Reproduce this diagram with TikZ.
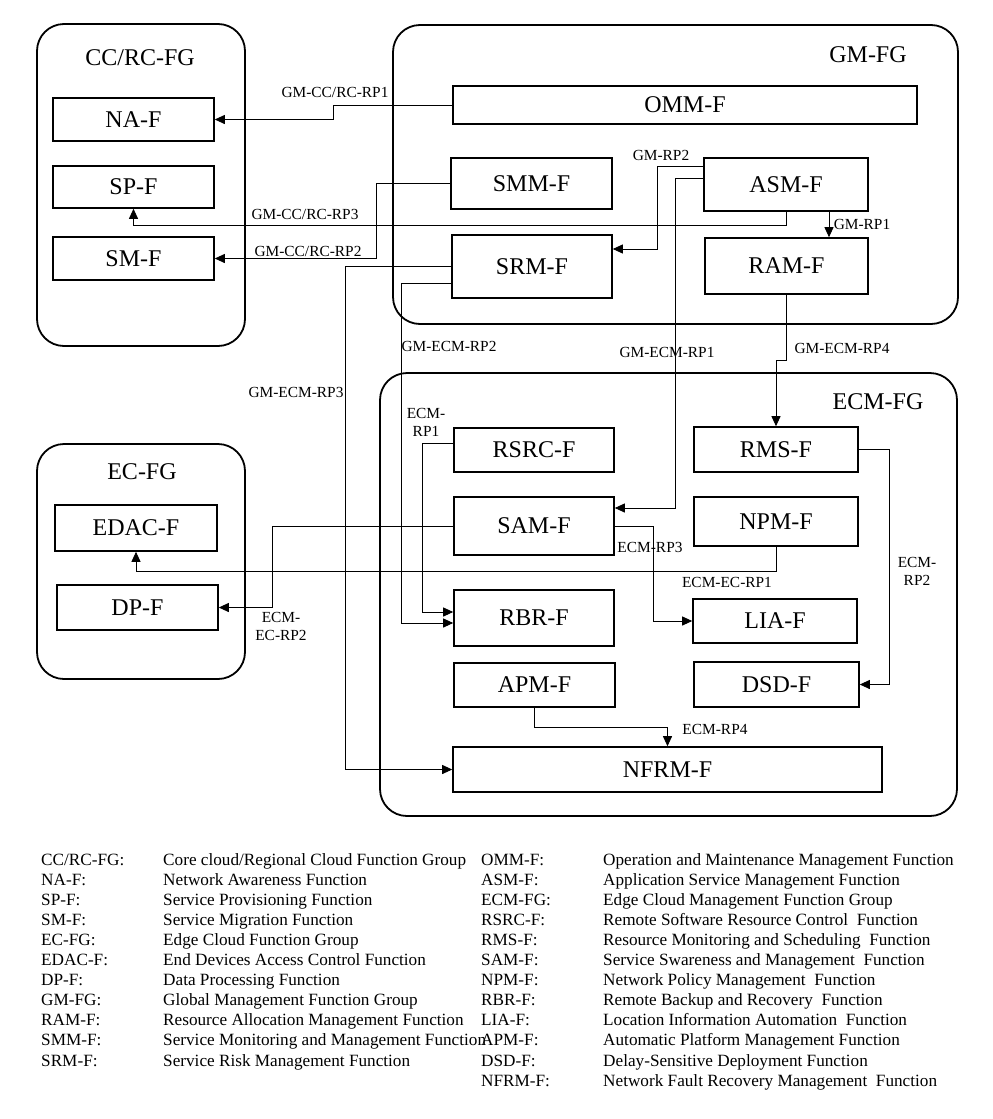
\documentclass[tikz,border=0pt]{standalone}
\usepackage{fontspec}
\setmainfont{Liberation Serif}
\usetikzlibrary{arrows.meta}
\begin{document}
\begin{tikzpicture}[x=1pt,y=-1pt,
  grp/.style={draw, line width=1.8pt, rounded corners=27pt},
  grplabel/.style={font=\fontsize{24}{28}\selectfont, inner sep=0pt},
  box/.style={draw, line width=1.6pt, inner sep=0pt, font=\fontsize{24}{28}\selectfont},
  conn/.style={line width=0.9pt, -{Triangle[length=10pt,width=9pt]}},
  clab/.style={font=\fontsize{15.4}{18}\selectfont, inner sep=0pt, align=center},
  leg/.style={font=\fontsize{17.2}{20}\selectfont, inner sep=0pt, anchor=base west}
]
\useasboundingbox[fill=white] (0,0) rectangle (993,1119);

% groups
\draw[grp] (37,24) rectangle (245,346);
\draw[grp] (393,25) rectangle (958,324);
\draw[grp] (380,373) rectangle (957,816);
\draw[grp] (37,444) rectangle (245,679);
\node[grplabel] (gCC) at (140,58) {CC/RC-FG};
\node[grplabel] (gGM) at (868,55) {GM-FG};
\node[grplabel] (gECM) at (878,402) {ECM-FG};
\node[grplabel] (gEC) at (142,472) {EC-FG};

% boxes
\node[box, minimum width=161pt, minimum height=43pt] (NA) at (133.5,119.5) {NA-F};
\node[box, minimum width=161pt, minimum height=42pt] (SP) at (133.5,187) {SP-F};
\node[box, minimum width=161pt, minimum height=43pt] (SM) at (133.5,258.5) {SM-F};
\node[box, minimum width=464pt, minimum height=38pt] (OMM) at (685,105) {OMM-F};
\node[box, minimum width=161pt, minimum height=51pt] (SMM) at (531.5,183.5) {SMM-F};
\node[box, minimum width=160pt, minimum height=63pt] (SRM) at (532,266.5) {SRM-F};
\node[box, minimum width=164pt, minimum height=53pt] (ASM) at (786,184.5) {ASM-F};
\node[box, minimum width=163pt, minimum height=56pt] (RAM) at (786.5,266) {RAM-F};
\node[box, minimum width=160pt, minimum height=44pt] (RSRC) at (534,450) {RSRC-F};
\node[box, minimum width=164pt, minimum height=45pt] (RMS) at (776,449.5) {RMS-F};
\node[box, minimum width=160pt, minimum height=58pt] (SAM) at (534,526) {SAM-F};
\node[box, minimum width=164pt, minimum height=49pt] (NPM) at (776,521.5) {NPM-F};
\node[box, minimum width=160pt, minimum height=56pt] (RBR) at (534,618) {RBR-F};
\node[box, minimum width=164pt, minimum height=44pt] (LIA) at (775,621) {LIA-F};
\node[box, minimum width=161pt, minimum height=44pt] (APM) at (534.5,685) {APM-F};
\node[box, minimum width=165pt, minimum height=45pt] (DSD) at (776.5,684.5) {DSD-F};
\node[box, minimum width=429pt, minimum height=45pt] (NFRM) at (667.5,769.5) {NFRM-F};
\node[box, minimum width=162pt, minimum height=46pt] (EDAC) at (136,528) {EDAC-F};
\node[box, minimum width=161pt, minimum height=45pt] (DP) at (137.5,607.5) {DP-F};

% connectors
\draw[conn] (OMM.west) -- ++(-119,0) |- (NA.east);
\draw[conn] (ASM.south) -- ++(0,14) -| (SP.south);
\draw[conn] (SMM.west) -- ++(-74,0) |- (SM.east);
\draw[conn] ([yshift=-9pt]ASM.north west) -- ++(-46,0) |- ([yshift=17.5pt]SRM.east);
\draw[conn] ([yshift=-21pt]ASM.north west) -- ++(-28,0) |- ([yshift=18pt]SAM.east);
\draw[conn] ([xshift=43pt]ASM.south) coordinate (g1) -- (g1 |- RAM.north);
\draw[conn] (RAM.south) -- ++(0,66) -| (RMS.north);
\draw[conn] ([yshift=-16.5pt]SRM.west) -- ++(-50,0) |- ([yshift=-5pt]RBR.west);
\draw[conn] (SRM.west) -- ++(-106,0) |- (NFRM.west);
\draw[conn] ([yshift=7pt]RSRC.west) -- ++(-31,0) |- ([yshift=6pt]RBR.west);
\draw[conn] (SAM.west) -- ++(-181,0) |- (DP.east);
\draw[conn] (NPM.south) -- ++(0,25) -| (EDAC.south);
\draw[conn] (SAM.east) -- ++(39,0) |- (LIA.west);
\draw[conn] (RMS.east) -- ++(31,0) |- (DSD.east);
\draw[conn] (APM.south) -- ++(0,20) -| (NFRM.north);

% connector labels
\node[clab] (l1) at (335,92) {GM-CC/RC-RP1};
\node[clab] (l2) at (305,214) {GM-CC/RC-RP3};
\node[clab] (l3) at (308,251) {GM-CC/RC-RP2};
\node[clab] (l4) at (661,155) {GM-RP2};
\node[clab] (l5) at (862,224) {GM-RP1};
\node[clab] (l6) at (667,352) {GM-ECM-RP1};
\node[clab] (l7) at (449,346) {GM-ECM-RP2};
\node[clab] (l8) at (296,392) {GM-ECM-RP3};
\node[clab] (l9) at (842,348) {GM-ECM-RP4};
\node[clab] (l10) at (426,422) {ECM-\\RP1};
\node[clab] (l11) at (281,626) {ECM-\\EC-RP2};
\node[clab] (l12) at (727,582) {ECM-EC-RP1};
\node[clab] (l13) at (650,547) {ECM-RP3};
\node[clab] (l14) at (917,571) {ECM-\\RP2};
\node[clab] (l15) at (715,729) {ECM-RP4};

% legend left
\foreach \i/\a/\b in {0/CC\slash RC-FG:/Core cloud\slash Regional Cloud Function Group,
  1/NA-F:/Network Awareness Function,
  2/SP-F:/Service Provisioning Function,
  3/SM-F:/Service Migration Function,
  4/EC-FG:/Edge Cloud Function Group,
  5/EDAC-F:/End Devices Access Control Function,
  6/DP-F:/Data Processing Function,
  7/GM-FG:/Global Management Function Group,
  8/RAM-F:/Resource Allocation Management Function,
  9/SMM-F:/Service Monitoring and Management Function,
  10/SRM-F:/Service Risk Management Function}{
  \node[leg] (la\i) at (41,865+20.1*\i) {\a};
  \node[leg] (lb\i) at (163,865+20.1*\i) {\b};
}
% legend right
\foreach \i/\a/\b in {0/OMM-F:/Operation and Maintenance Management Function,
  1/ASM-F:/Application Service Management Function,
  2/ECM-FG:/Edge Cloud Management Function Group,
  3/RSRC-F:/Remote Software Resource Control\ \ Function,
  4/RMS-F:/Resource Monitoring and Scheduling\ \ Function,
  5/SAM-F:/Service Swareness and Management\ \ Function,
  6/NPM-F:/Network Policy Management\ \ Function,
  7/RBR-F:/Remote Backup and Recovery\ \ Function,
  8/LIA-F:/Location Information Automation\ \ Function,
  9/APM-F:/Automatic Platform Management Function,
  10/DSD-F:/Delay-Sensitive Deployment Function,
  11/NFRM-F:/Network Fault Recovery Management\ \ Function}{
  \node[leg] (ra\i) at (481,865+20.1*\i) {\a};
  \node[leg] (rb\i) at (603,865+20.1*\i) {\b};
}
\end{tikzpicture}
\end{document}
